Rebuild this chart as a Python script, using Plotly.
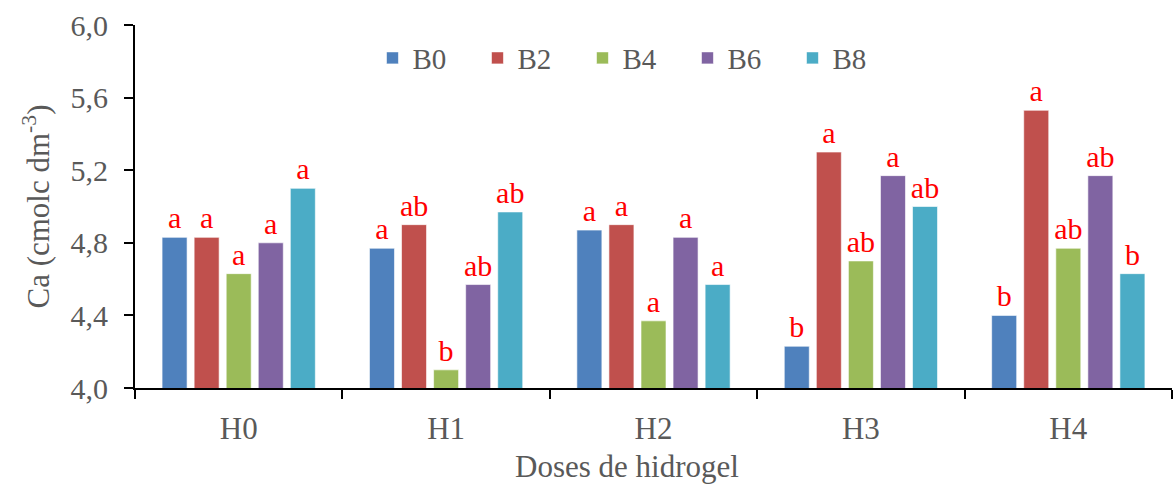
import plotly.graph_objects as go

# Hydrogel doses (categories) and biochar series
categories = ["H0", "H1", "H2", "H3", "H4"]
series_names = ["B0", "B2", "B4", "B6", "B8"]
series_colors = ["#4F81BD", "#C0504D", "#9BBB59", "#8064A2", "#4BACC6"]

# Ca content (cmolc dm-3) per series, one value per hydrogel dose
b0 = [4.83, 4.77, 4.87, 4.23, 4.40]
b2 = [4.83, 4.90, 4.90, 5.30, 5.53]
b4 = [4.63, 4.10, 4.37, 4.70, 4.77]
b6 = [4.80, 4.57, 4.83, 5.17, 5.17]
b8 = [5.10, 4.97, 4.57, 5.00, 4.63]

# Mean comparison letters
b0_letters = ["a", "a", "a", "b", "b"]
b2_letters = ["a", "ab", "a", "a", "a"]
b4_letters = ["a", "b", "a", "ab", "ab"]
b6_letters = ["a", "ab", "a", "a", "ab"]
b8_letters = ["a", "ab", "a", "ab", "b"]

y_ticks = [4.0, 4.4, 4.8, 5.2, 5.6, 6.0]
y_tick_text = [f"{v:.1f}".replace(".", ",") for v in y_ticks]

values = [b0, b2, b4, b6, b8]
letters = [b0_letters, b2_letters, b4_letters, b6_letters, b8_letters]

FONT = "Liberation Serif"
GREY = "#595959"

fig = go.Figure()
for name, color, vals, labs in zip(series_names, series_colors, values, letters):
    fig.add_trace(go.Bar(
        x=categories,
        y=vals,
        name=name,
        marker=dict(color=color, line=dict(color="rgba(255,255,255,0.6)", width=1)),
        text=labs,
        textposition="outside",
        constraintext="none",
        cliponaxis=False,
        textfont=dict(family=FONT, size=30, color="#FF0000"),
    ))

fig.update_layout(
    width=1173,
    height=490,
    margin=dict(l=135, r=1, t=25, b=102),
    paper_bgcolor="white",
    plot_bgcolor="white",
    barmode="group",
    bargap=0.227,
    bargroupgap=0.22,
    font=dict(family=FONT, color=GREY, size=30),
    legend=dict(
        orientation="h",
        x=0.229,
        y=0.909,
        xanchor="left",
        yanchor="middle",
        font=dict(family=FONT, size=29, color=GREY),
        bgcolor="rgba(0,0,0,0)",
        entrywidthmode="pixels",
        entrywidth=60,
        itemwidth=30,
    ),
    showlegend=True,
)

# x-axis title, set slightly left of the plot-area centre
fig.add_annotation(
    text="Doses de hidrogel",
    xref="paper", yref="paper",
    x=0.474, y=-0.2176,
    xanchor="center", yanchor="middle",
    showarrow=False,
    font=dict(family=FONT, size=31, color=GREY),
)

fig.update_xaxes(
    showline=True,
    linecolor="black",
    linewidth=2,
    ticks="outside",
    tickson="boundaries",
    ticklen=9,
    tickwidth=2,
    tickcolor="black",
    ticklabelstandoff=12,
    tickfont=dict(family=FONT, size=31, color=GREY),
    showgrid=False,
)

fig.update_yaxes(
    range=[4.0, 6.0],
    tickvals=y_ticks,
    ticktext=y_tick_text,
    showline=True,
    linecolor="black",
    linewidth=2,
    ticks="outside",
    ticklen=9,
    tickwidth=2,
    tickcolor="black",
    ticklabelstandoff=10,
    tickfont=dict(family=FONT, size=30, color=GREY),
    title=dict(text="Ca (cmolc dm<sup>-3</sup>)", font=dict(family=FONT, size=31, color=GREY), standoff=12),
    showgrid=False,
    zeroline=False,
)

fig.write_html("out.html")
